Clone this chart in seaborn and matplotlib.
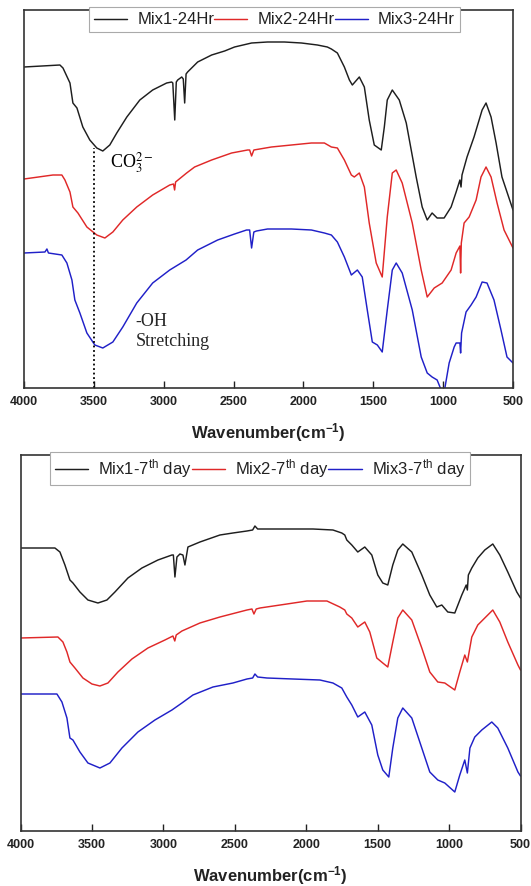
import matplotlib
matplotlib.use("Agg")
import numpy as np
import pandas as pd
import matplotlib.pyplot as plt
import seaborn as sns

# --- FTIR spectra, 24 Hr (wavenumber in cm-1, transmittance in arbitrary units) ---
mix1_24_wn = [4000, 3743, 3721, 3671, 3650, 3621, 3579, 3529, 3479, 3436, 3386, 3336, 3264, 3171,
              3079, 2979, 2943, 2935, 2921, 2910, 2900, 2871, 2860, 2850, 2840, 2829, 2757, 2657,
              2564, 2493, 2371, 2257, 2136, 2014, 1900, 1829, 1800, 1757, 1707, 1671, 1650, 1600,
              1564, 1529, 1493, 1443, 1421, 1400, 1364, 1314, 1264, 1193, 1150, 1114, 1079, 1043,
              993, 943, 907, 880, 872, 865, 829, 779, 721, 693, 657, 621, 579, 500]
mix1_24_t = [321, 323, 320, 305, 285, 280, 261, 248, 240, 237, 243, 255, 271, 288,
             298, 305, 306, 305, 268, 306, 308, 311, 309, 285, 314, 316, 326, 333,
             337, 341, 345, 346, 346, 345, 343, 341, 339, 335, 321, 308, 303, 311,
             301, 268, 243, 238, 261, 288, 298, 288, 265, 211, 181, 168, 175, 170,
             170, 181, 196, 208, 201, 213, 231, 251, 278, 285, 271, 245, 211, 178]

mix2_24_wn = [4000, 3793, 3729, 3707, 3671, 3650, 3614, 3550, 3479, 3421, 3364, 3293, 3193, 3079,
              2957, 2930, 2922, 2915, 2836, 2779, 2657, 2514, 2400, 2385, 2371, 2355, 2229, 2086,
              1943, 1850, 1800, 1757, 1707, 1657, 1636, 1600, 1564, 1529, 1479, 1436, 1400, 1364,
              1336, 1293, 1221, 1157, 1114, 1064, 1007, 943, 907, 880, 875, 870, 850, 814,
              764, 729, 693, 657, 614, 564, 500]
mix2_24_t = [209, 213, 213, 208, 196, 181, 175, 161, 153, 150, 156, 168, 181, 193,
             203, 204, 198, 206, 215, 221, 228, 235, 238, 238, 232, 238, 241, 243,
             245, 245, 241, 240, 228, 213, 211, 215, 201, 165, 125, 111, 171, 215,
             218, 205, 165, 118, 91, 100, 105, 118, 135, 142, 115, 145, 165, 171,
             188, 211, 221, 211, 185, 158, 140]

mix3_24_wn = [4000, 3850, 3836, 3825, 3729, 3693, 3657, 3636, 3600, 3550, 3493, 3436, 3364, 3293,
              3193, 3079, 2957, 2840, 2757, 2614, 2493, 2407, 2385, 2371, 2355, 2336, 2257, 2086,
              1943, 1850, 1800, 1757, 1707, 1657, 1614, 1579, 1543, 1507, 1471, 1436, 1400, 1364,
              1336, 1293, 1221, 1157, 1114, 1079, 1043, 1014, 990, 957, 921, 907, 880, 875,
              868, 836, 800, 764, 721, 686, 636, 586, 543, 500]
mix3_24_t = [135, 136, 139, 135, 133, 125, 108, 88, 75, 55, 43, 40, 46, 61,
             85, 105, 118, 128, 138, 148, 154, 158, 158, 140, 156, 157, 159, 159,
             158, 155, 153, 146, 131, 113, 118, 111, 78, 46, 43, 36, 78, 118,
             125, 115, 78, 31, 15, 11, 8, -2, -2, 25, 41, 45, 45, 35,
             55, 76, 83, 91, 106, 105, 88, 58, 31, 25]

# --- FTIR spectra, 7th day ---
mix1_7_wn = [4000, 3759, 3724, 3689, 3654, 3633, 3584, 3528, 3458, 3395, 3339, 3248, 3150, 3038,
             2940, 2930, 2919, 2905, 2884, 2863, 2849, 2828, 2744, 2604, 2513, 2415, 2375, 2359,
             2340, 2275, 2135, 1953, 1813, 1751, 1730, 1716, 1681, 1639, 1590, 1541, 1499, 1464,
             1429, 1394, 1359, 1324, 1261, 1191, 1135, 1086, 1051, 1009, 960, 911, 880, 872,
             865, 841, 799, 750, 694, 645, 589, 526, 500]
mix1_7_t = [282, 282, 278, 265, 250, 247, 238, 230, 227, 230, 238, 252, 262, 270,
            275, 275, 253, 273, 276, 275, 265, 283, 288, 295, 297, 299, 300, 304,
            301, 301, 301, 301, 300, 297, 295, 290, 285, 278, 283, 275, 255, 247,
            245, 265, 280, 286, 278, 255, 235, 223, 225, 218, 217, 235, 245, 240,
            255, 262, 272, 280, 286, 275, 258, 238, 232]

mix2_7_wn = [4000, 3738, 3703, 3675, 3654, 3619, 3563, 3500, 3444, 3388, 3318, 3220, 3108, 2989,
             2933, 2920, 2910, 2870, 2744, 2604, 2415, 2380, 2366, 2350, 2324, 2135, 1995, 1855,
             1765, 1730, 1716, 1681, 1639, 1590, 1555, 1506, 1464, 1429, 1394, 1359, 1324, 1261,
             1191, 1135, 1079, 1030, 960, 925, 890, 872, 841, 799, 750, 694, 645, 589,
             518, 500]
mix2_7_t = [192, 193, 188, 178, 168, 162, 152, 146, 144, 147, 158, 171, 182, 190,
            194, 189, 195, 199, 207, 213, 220, 221, 216, 221, 222, 226, 229, 229,
            223, 220, 216, 212, 203, 208, 198, 172, 167, 163, 188, 212, 220, 210,
            182, 158, 148, 147, 140, 158, 175, 168, 193, 205, 212, 220, 208, 188,
            165, 160]

mix3_7_wn = [4000, 3745, 3710, 3675, 3654, 3633, 3584, 3528, 3444, 3374, 3290, 3178, 3059, 2940,
             2870, 2793, 2653, 2513, 2415, 2375, 2359, 2340, 2275, 2093, 1904, 1813, 1751, 1716,
             1681, 1639, 1590, 1541, 1499, 1464, 1422, 1394, 1359, 1324, 1261, 1191, 1135, 1079,
             1030, 960, 925, 890, 872, 854, 820, 771, 701, 659, 589, 518, 500]
mix3_7_t = [136, 136, 128, 112, 92, 90, 78, 67, 62, 67, 82, 98, 110, 120,
            127, 135, 143, 147, 151, 152, 156, 153, 152, 151, 150, 147, 142, 133,
            125, 113, 118, 105, 75, 60, 53, 82, 112, 122, 112, 82, 58, 50,
            47, 38, 55, 70, 57, 82, 93, 100, 108, 102, 82, 58, 54]

labels_24 = ["Mix1-24Hr", "Mix2-24Hr", "Mix3-24Hr"]
labels_7 = [r"Mix1-7$^{\mathrm{th}}$ day", r"Mix2-7$^{\mathrm{th}}$ day", r"Mix3-7$^{\mathrm{th}}$ day"]
colors = ["#1e1e1e", "#e02828", "#2020c8"]
xticks = [4000, 3500, 3000, 2500, 2000, 1500, 1000, 500]

sns.set_theme(style="white")
plt.rcParams["font.family"] = ["Liberation Sans", "DejaVu Sans"]
plt.rcParams["mathtext.fontset"] = "custom"
plt.rcParams["mathtext.rm"] = "Liberation Sans"
plt.rcParams["mathtext.it"] = "Liberation Sans:italic"
plt.rcParams["mathtext.bf"] = "Liberation Sans:bold"

W, H = 531, 886
fig = plt.figure(figsize=(W / 100, H / 100), dpi=100)
ax1 = fig.add_axes([24 / W, 1 - 388 / H, 489 / W, 378 / H])
ax2 = fig.add_axes([20.5 / W, 1 - 831 / H, 500 / W, 376 / H])


def draw_panel(ax, spectra, labels, ylim, leg_x):
    for (wn, t), lab, c in zip(spectra, labels, colors):
        df = pd.DataFrame({"wn": wn, "T": t})
        sns.lineplot(data=df, x="wn", y="T", color=c, linewidth=1.05, label=lab,
                     ax=ax, estimator=None, sort=False)
    ax.set_xlim(4000, 500)
    ax.set_ylim(*ylim)
    ax.set_yticks([])
    ax.set_xticks(xticks)
    ax.tick_params(axis="x", bottom=True, direction="in", length=5, width=1.0,
                   pad=6, labelsize=9, colors="#222222")
    for lbl in ax.get_xticklabels():
        lbl.set_fontweight("bold")
    for sp in ax.spines.values():
        sp.set_color("#333333")
        sp.set_linewidth(1.2)
    ax.set_ylabel("")
    ax.set_xlabel(r"Wavenumber(cm$^{\mathbf{-1}}$)", fontsize=12, fontweight="bold",
                  labelpad=9, color="#222222")
    leg = ax.legend(loc="upper center", bbox_to_anchor=(leg_x, 1.007), ncol=3, fontsize=12,
                    handlelength=2.0, handletextpad=0.6, columnspacing=0.0, frameon=True,
                    fancybox=False, edgecolor="#aaaaaa", framealpha=1, borderpad=0.3,
                    borderaxespad=0)
    leg.get_frame().set_linewidth(0.8)
    for txt in leg.get_texts():
        txt.set_color("#222222")


draw_panel(ax1, [(mix1_24_wn, mix1_24_t), (mix2_24_wn, mix2_24_t), (mix3_24_wn, mix3_24_t)],
           labels_24, (0, 378), 0.512)
draw_panel(ax2, [(mix1_7_wn, mix1_7_t), (mix2_7_wn, mix2_7_t), (mix3_7_wn, mix3_7_t)],
           labels_7, (-1, 375), 0.479)

# annotations on the 24 Hr panel
ax1.vlines(3500, 0, 240, colors="black", linestyles=(0, (1, 1.5)), linewidth=1.3)
ax1.text(3386, 220, r"CO$_3^{2-}$", fontsize=13, family="Liberation Serif",
         math_fontfamily="stix", va="baseline", ha="left", color="black")
ax1.text(3200, 62, "-OH", fontsize=13, family="Liberation Serif", va="baseline", ha="left")
ax1.text(3200, 42, "Stretching", fontsize=13, family="Liberation Serif", va="baseline", ha="left")

fig.savefig("out.png", dpi=100)
